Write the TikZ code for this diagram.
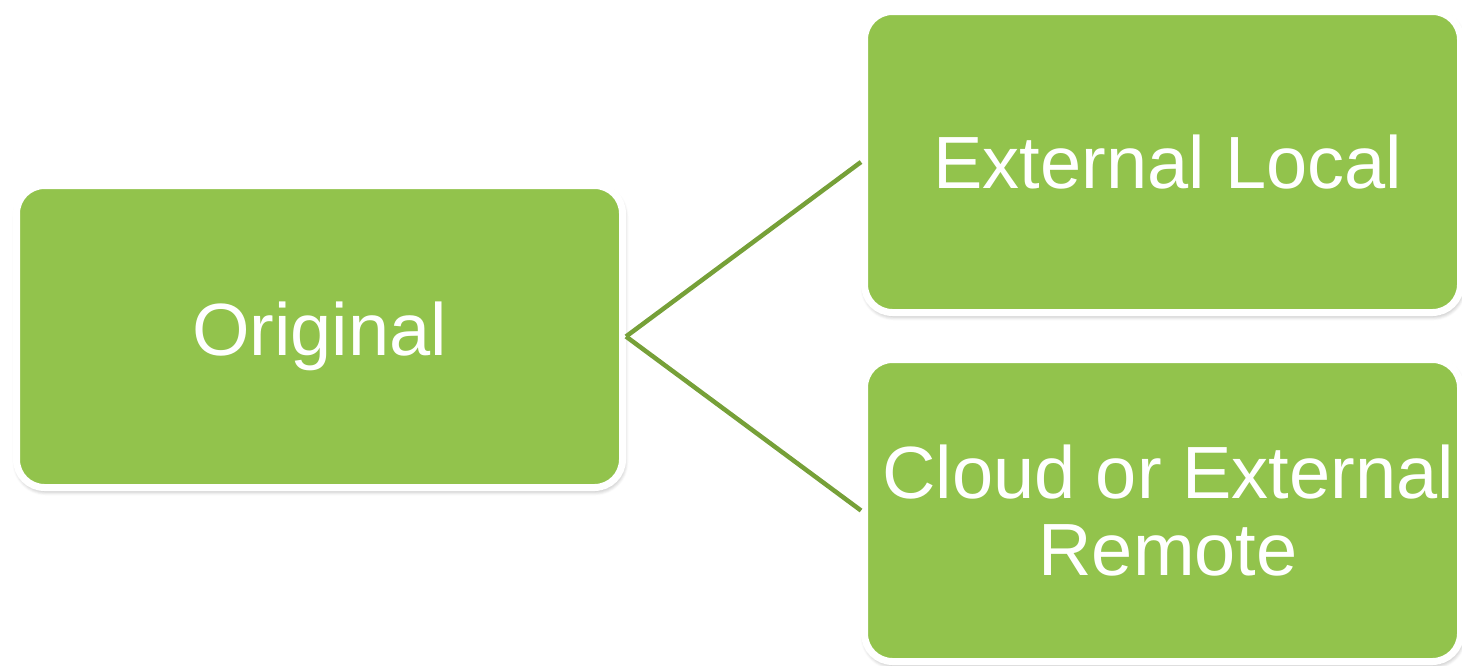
\documentclass[tikz,border=0pt]{standalone}
\usepackage{fontspec}
\setmainfont{Liberation Sans}
\usetikzlibrary{shadows.blur}
\definecolor{boxgreen}{RGB}{146,195,76}
\definecolor{linkgreen}{RGB}{118,160,56}
% text in the right-hand boxes sits a little right of centre
\newcommand{\indentline}{\hspace*{11pt}}
\tikzset{
  greenbox/.style={rectangle, rounded corners=28, fill=boxgreen, draw=white,
    line width=7, inner sep=0, align=center, text=white,
    font=\fontsize{74}{77}\selectfont,
    blur shadow={shadow xshift=1pt, shadow yshift=-3pt, shadow blur radius=5pt,
      shadow blur steps=6, shadow opacity=40}},
  link/.style={draw=linkgreen, line width=4.5}
}
\begin{document}
\begin{tikzpicture}[x=1pt, y=-1pt]
  \useasboundingbox (0,0) rectangle (1462,665);
  \node[greenbox, minimum width=606, minimum height=302] (orig) at (319.5,336.5) {Original};
  \node[greenbox, minimum width=596, minimum height=301] (local) at (1162.5,162) {\indentline External Local};
  \node[greenbox, minimum width=596, minimum height=302] (remote) at (1162.5,510.5)
    {\indentline Cloud or External\\\indentline Remote};
  \draw[link] (orig.east) -- (local.west);
  \draw[link] (orig.east) -- (remote.west);
\end{tikzpicture}
\end{document}
